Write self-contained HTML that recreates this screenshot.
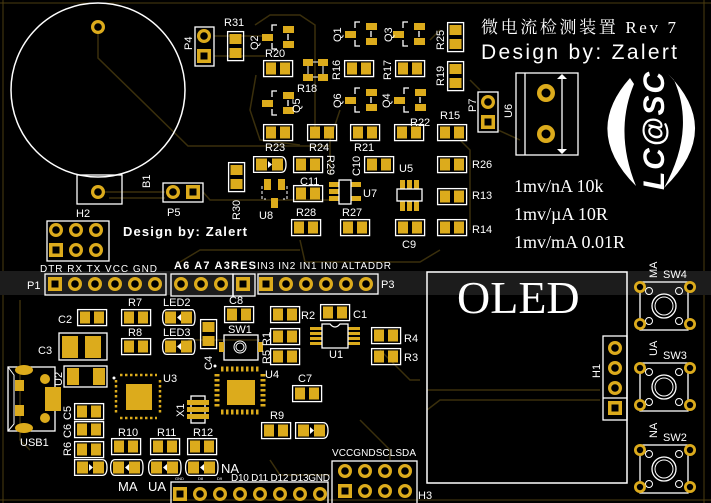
<!DOCTYPE html>
<html><head><meta charset="utf-8"><style>
html,body{margin:0;padding:0;background:#000;}
svg{display:block;}
text{font-family:"Liberation Sans","Noto Sans CJK SC",sans-serif;fill:#fff;}
.s{font-family:"Liberation Serif","Noto Serif CJK SC",serif;}
</style></head><body>
<svg width="711" height="503" viewBox="0 0 711 503" xmlns="http://www.w3.org/2000/svg">
<defs>
<g id="rh"><rect x="0.6" y="0.6" width="29" height="16" fill="none" stroke="#fff" stroke-width="1.3"/><rect x="3" y="2.5" width="10" height="12" fill="#dcab1c"/><rect x="17" y="2.5" width="10" height="12" fill="#dcab1c"/></g>
<g id="rv"><rect x="0.6" y="0.6" width="16" height="29" fill="none" stroke="#fff" stroke-width="1.3"/><rect x="2.5" y="3" width="12" height="10" fill="#dcab1c"/><rect x="2.5" y="17" width="12" height="10" fill="#dcab1c"/></g>
<g id="dr"><path d="M5 0.6 H30 Q33 0.6 33 8.5 Q33 16.4 30 16.4 H5 Q0.6 16.4 0.6 8.5 Q0.6 0.6 5 0.6Z" fill="none" stroke="#fff" stroke-width="1.3"/><rect x="3" y="2.5" width="11" height="12" fill="#dcab1c"/><rect x="19" y="2.5" width="11" height="12" fill="#dcab1c"/><path d="M19 5 L15 8.5 L19 12Z" fill="#fff"/></g>
<g id="df"><path d="M0.6 0.6 H28 Q33 0.6 33 8.5 Q33 16.4 28 16.4 H0.6Z" fill="none" stroke="#fff" stroke-width="1.3"/><rect x="3" y="2.5" width="11" height="12" fill="#dcab1c"/><rect x="19" y="2.5" width="11" height="12" fill="#dcab1c"/><path d="M15 5 L19 8.5 L15 12Z" fill="#fff"/></g>
<g id="q"><rect x="0" y="9" width="11" height="7" fill="#dcab1c"/><rect x="21" y="1" width="11" height="7" fill="#dcab1c"/><rect x="21" y="16" width="11" height="7" fill="#dcab1c"/><path d="M15 0 H10 V6 M10 18 V24 H15 M26 9 V15" fill="none" stroke="#fff" stroke-width="1.3"/></g>
<g id="pc"><circle cx="0" cy="0" r="7" fill="#dcab1c"/><circle cx="0" cy="0" r="3.8" fill="#000"/></g>
<g id="ps"><rect x="-7" y="-7" width="14" height="14" fill="#dcab1c"/><rect x="-3.5" y="-3.5" width="7" height="7" fill="#000"/></g>
<g id="sw"><rect x="0" y="0" width="48" height="48" fill="none" stroke="#fff" stroke-width="1.3"/><circle cx="24" cy="24" r="12" fill="none" stroke="#fff" stroke-width="1.3"/><circle cx="24" cy="24" r="9" fill="none" stroke="#fff" stroke-width="1"/><circle cx="9" cy="9" r="3.5" fill="none" stroke="#fff"/><circle cx="39" cy="9" r="3.5" fill="none" stroke="#fff"/><circle cx="9" cy="39" r="3.5" fill="none" stroke="#fff"/><circle cx="39" cy="39" r="3.5" fill="none" stroke="#fff"/>
<circle cx="0" cy="5" r="6" fill="#dcab1c"/><circle cx="0" cy="5" r="3.2" fill="#000"/><circle cx="50" cy="5" r="6" fill="#dcab1c"/><circle cx="50" cy="5" r="3.2" fill="#000"/><circle cx="0" cy="42" r="6" fill="#dcab1c"/><circle cx="0" cy="42" r="3.2" fill="#000"/><circle cx="50" cy="42" r="6" fill="#dcab1c"/><circle cx="50" cy="42" r="3.2" fill="#000"/></g>
</defs>
<rect width="711" height="503" fill="#000"/>
<path d="M3 0 V503 M0 3 H711 M704 0 V503 M0 500 H711" stroke="#4a3c10" stroke-width="1" fill="none"/>
<rect x="0" y="271" width="711" height="24" fill="#1c1c1c"/>
<g stroke="#3a2f0c" stroke-width="1.5" fill="none">
<path d="M98 27 V58 L188 146 H330"/><path d="M98 192 H165"/><path d="M109 198 H165"/><path d="M203 192 L210 200 H330"/>
<path d="M214 36 H265 M214 56 H265"/><path d="M255 25 L270 15 H300 L315 25 V130"/><path d="M256 75 L250 110 L260 140 L300 145"/>
<path d="M340 110 L330 140 V175"/><path d="M430 40 L440 30 M470 80 L480 90 M460 140 L470 150 V230"/>
<path d="M498 130 L520 140"/><path d="M300 240 L305 262 H420 L440 250"/><path d="M180 262 L200 250 H300"/>
<path d="M427 390 H600 M427 410 L440 400 H600"/><path d="M360 420 L390 450 V460"/><path d="M270 460 L280 475 H330"/>
<path d="M20 300 V440 L30 450"/><path d="M170 350 L190 340 H260"/><path d="M380 350 L410 380 L420 380"/>
</g>
<circle cx="98" cy="90" r="87" fill="none" stroke="#fff" stroke-width="1.5"/>
<rect x="77" y="175" width="45" height="29" fill="none" stroke="#fff" stroke-width="1.3"/>
<use href="#pc" x="98" y="27"/><use href="#pc" x="98" y="192"/>
<text x="150" y="188" font-size="11" transform="rotate(-90 150 188)">B1</text>
<rect x="195" y="27" width="19" height="39" fill="none" stroke="#fff" stroke-width="1.3"/>
<use href="#pc" x="204" y="36"/><use href="#ps" x="204" y="56"/>
<text x="192" y="50" font-size="11" transform="rotate(-90 192 50)">P4</text>
<rect x="163" y="183" width="40" height="19" fill="none" stroke="#fff" stroke-width="1.3"/>
<use href="#pc" x="173" y="192"/><use href="#ps" x="193" y="192"/>
<text x="167" y="216" font-size="11">P5</text>
<rect x="47" y="221" width="62" height="40" fill="none" stroke="#fff" stroke-width="1.3"/>
<use href="#pc" x="56" y="230"/><use href="#pc" x="76" y="230"/><use href="#pc" x="96" y="230"/>
<use href="#ps" x="56" y="250"/><use href="#pc" x="76" y="250"/><use href="#pc" x="96" y="250"/>
<text x="76" y="217" font-size="11">H2</text>
<text x="123" y="236" font-size="13" font-weight="bold" textLength="124">Design by: Zalert</text>
<use href="#rv" x="227" y="31"/><text x="224" y="26" font-size="11">R31</text>
<use href="#q" x="262" y="25"/><text x="258" y="50" font-size="11" transform="rotate(-90 258 50)">Q2</text>
<use href="#rh" x="263" y="60"/><text x="265" y="57" font-size="11">R20</text>
<g fill="#dcab1c"><rect x="303" y="59" width="10" height="7"/><rect x="318" y="59" width="10" height="7"/><rect x="303" y="74" width="10" height="7"/><rect x="318" y="74" width="10" height="7"/></g>
<path d="M308 66 V74 M323 66 V74 M313 62 H318 M313 77 H318" stroke="#fff" fill="none"/>
<text x="297" y="92" font-size="11">R18</text>
<use href="#q" x="262" y="91"/><text x="300" y="113" font-size="11" transform="rotate(-90 300 113)">Q5</text>
<use href="#q" x="345" y="22"/><text x="341" y="42" font-size="11" transform="rotate(-90 341 42)">Q1</text>
<use href="#q" x="393" y="22"/><text x="392" y="42" font-size="11" transform="rotate(-90 392 42)">Q3</text>
<use href="#rh" x="344" y="60"/><text x="340" y="80" font-size="11" transform="rotate(-90 340 80)">R16</text>
<use href="#rh" x="395" y="60"/><text x="391" y="80" font-size="11" transform="rotate(-90 391 80)">R17</text>
<use href="#q" x="345" y="88"/><text x="341" y="108" font-size="11" transform="rotate(-90 341 108)">Q6</text>
<use href="#q" x="394" y="88"/><text x="390" y="108" font-size="11" transform="rotate(-90 390 108)">Q4</text>
<use href="#rv" x="447" y="22"/><text x="444" y="50" font-size="11" transform="rotate(-90 444 50)">R25</text>
<use href="#rv" x="447" y="61"/><text x="444" y="86" font-size="11" transform="rotate(-90 444 86)">R19</text>
<use href="#rh" x="263" y="124"/><text x="265" y="151" font-size="11">R23</text>
<use href="#rh" x="307" y="124"/><text x="309" y="151" font-size="11">R24</text>
<use href="#rh" x="350" y="124"/><text x="354" y="151" font-size="11">R21</text>
<use href="#rh" x="394" y="124"/><text x="410" y="126" font-size="11">R22</text>
<use href="#rh" x="437" y="124"/><text x="440" y="119" font-size="11">R15</text>
<use href="#df" x="253" y="156"/>
<use href="#rh" x="293" y="156"/><text x="327" y="155" font-size="11" transform="rotate(90 327 155)">R29</text>
<use href="#rh" x="364" y="156"/><text x="360" y="176" font-size="11" transform="rotate(-90 360 176)">C10</text>
<use href="#rh" x="437" y="156"/><text x="472" y="168" font-size="11">R26</text>
<text x="300" y="185" font-size="11">C11</text>
<use href="#rh" x="293" y="185"/>
<use href="#rh" x="437" y="188"/><text x="472" y="199" font-size="11">R13</text>
<use href="#rh" x="291" y="219"/><text x="296" y="216" font-size="11">R28</text>
<use href="#rh" x="340" y="219"/><text x="342" y="216" font-size="11">R27</text>
<use href="#rh" x="395" y="219"/><text x="402" y="248" font-size="11">C9</text>
<use href="#rh" x="437" y="219"/><text x="472" y="233" font-size="11">R14</text>
<use href="#rv" x="228" y="162"/><text x="240" y="220" font-size="11" transform="rotate(-90 240 220)">R30</text>
<g fill="#dcab1c"><rect x="264" y="179" width="7" height="11"/><rect x="278" y="179" width="7" height="11"/><rect x="271" y="198" width="7" height="10"/></g>
<path d="M262 186 V199 H266 M287 186 V199 H283" stroke="#fff" fill="none" stroke-dasharray="3 2"/>
<text x="259" y="219" font-size="11">U8</text>
<g fill="#dcab1c"><rect x="329" y="182" width="10" height="5"/><rect x="329" y="189" width="10" height="5"/><rect x="329" y="196" width="10" height="5"/><rect x="351" y="182" width="10" height="5"/><rect x="351" y="196" width="10" height="5"/></g>
<rect x="339" y="180" width="12" height="24" fill="none" stroke="#fff" stroke-width="1.3"/>
<text x="363" y="197" font-size="11">U7</text>
<g fill="#dcab1c"><rect x="400" y="180" width="5" height="31"/><rect x="407" y="180" width="5" height="31"/><rect x="414" y="180" width="5" height="31"/></g>
<rect x="397" y="189" width="25" height="12" fill="#000" stroke="#fff" stroke-width="1.3"/>
<text x="399" y="172" font-size="11">U5</text>
<text x="481" y="33" font-size="17" class="s" textLength="195">微电流检测装置 Rev 7</text>
<text x="481" y="59" font-size="21" textLength="196">Design by: Zalert</text>
<rect x="478" y="92" width="20" height="40" fill="none" stroke="#fff" stroke-width="1.3"/>
<use href="#pc" x="488" y="102"/><use href="#ps" x="488" y="122"/>
<text x="476" y="112" font-size="11" transform="rotate(-90 476 112)">P7</text>
<rect x="516" y="73" width="62" height="82" fill="none" stroke="#fff" stroke-width="1.3"/>
<path d="M525 73 V155 M562 76 V152" stroke="#fff" stroke-width="1.3"/>
<path d="M557 79 L562 74 L567 79Z M557 149 L562 154 L567 149Z" fill="#fff"/>
<circle cx="546" cy="93" r="9" fill="#dcab1c"/><circle cx="546" cy="93" r="4.5" fill="#000"/>
<circle cx="546" cy="134" r="9" fill="#dcab1c"/><circle cx="546" cy="134" r="4.5" fill="#000"/>
<text x="512" y="118" font-size="11" transform="rotate(-90 512 118)">U6</text>
<path d="M630 78 Q582 132 636 186 Q614 132 634 84 Z" fill="#fff"/>
<path d="M668 74 Q724 130 664 188 Q696 130 674 80 Z" fill="#fff"/>
<text x="664" y="190" font-size="30" font-weight="bold" font-style="italic" textLength="118" transform="rotate(-90 664 190)">LC@SC</text>
<text x="514" y="192" font-size="18" class="s">1mv/nA 10k</text>
<text x="514" y="220" font-size="18" class="s">1mv/µA 10R</text>
<text x="514" y="248" font-size="18" class="s">1mv/mA 0.01R</text>
<text x="40" y="272" font-size="10" textLength="117">DTR RX TX VCC GND</text>
<rect x="45" y="274" width="121" height="21" fill="none" stroke="#fff" stroke-width="1.3"/>
<text x="27" y="289" font-size="11">P1</text>
<use href="#ps" x="55" y="284"/><use href="#pc" x="75" y="284"/><use href="#pc" x="95" y="284"/><use href="#pc" x="115" y="284"/><use href="#pc" x="135" y="284"/><use href="#pc" x="155" y="284"/>
<text x="174" y="269" font-size="11" font-weight="bold" textLength="82">A6 A7 A3RES</text>
<rect x="171" y="274" width="62" height="22" fill="none" stroke="#fff" stroke-width="1.3"/>
<rect x="233" y="274" width="22" height="22" fill="none" stroke="#fff" stroke-width="1.3"/>
<use href="#pc" x="181" y="284"/><use href="#pc" x="201" y="284"/><use href="#pc" x="221" y="284"/><use href="#ps" x="243" y="284"/>
<text x="257" y="269" font-size="10" textLength="134">IN3 IN2 IN1 IN0 ALTADDR</text>
<rect x="258" y="274" width="120" height="20" fill="none" stroke="#fff" stroke-width="1.3"/>
<use href="#ps" x="266" y="284"/><use href="#pc" x="286" y="284"/><use href="#pc" x="306" y="284"/><use href="#pc" x="326" y="284"/><use href="#pc" x="346" y="284"/><use href="#pc" x="366" y="284"/>
<text x="381" y="288" font-size="11">P3</text>
<use href="#rh" x="77" y="309"/><text x="58" y="323" font-size="11">C2</text>
<use href="#rh" x="121" y="309"/><text x="128" y="306" font-size="11">R7</text>
<use href="#rh" x="121" y="338"/><text x="128" y="336" font-size="11">R8</text>
<use href="#dr" x="162" y="309"/><text x="163" y="306" font-size="11">LED2</text>
<use href="#dr" x="162" y="338"/><text x="163" y="336" font-size="11">LED3</text>
<use href="#rh" x="224" y="306"/><text x="229" y="304" font-size="11">C8</text>
<use href="#rv" x="200" y="319"/><text x="212" y="370" font-size="11" transform="rotate(-90 212 370)">C4</text>
<rect x="224" y="335" width="34" height="25" fill="none" stroke="#fff" stroke-width="1.3"/>
<circle cx="240" cy="347" r="6" fill="none" stroke="#fff"/><circle cx="240" cy="347" r="4" fill="none" stroke="#fff"/>
<rect x="219" y="342" width="5" height="10" fill="#dcab1c"/><rect x="258" y="342" width="5" height="10" fill="#dcab1c"/>
<text x="228" y="333" font-size="11">SW1</text>
<use href="#rh" x="270" y="306"/><text x="301" y="319" font-size="11">R2</text>
<use href="#rh" x="270" y="328"/><text x="270" y="346" font-size="11" transform="rotate(-90 270 346)">R1</text>
<use href="#rh" x="270" y="348"/><text x="270" y="364" font-size="11" transform="rotate(-90 270 364)">R5</text>
<use href="#rh" x="320" y="304"/><text x="353" y="318" font-size="11">C1</text>
<g fill="#dcab1c"><rect x="310" y="327" width="12" height="3"/><rect x="310" y="332" width="12" height="3"/><rect x="310" y="337" width="12" height="3"/><rect x="310" y="342" width="12" height="3"/><rect x="348" y="327" width="12" height="3"/><rect x="348" y="332" width="12" height="3"/><rect x="348" y="337" width="12" height="3"/><rect x="348" y="342" width="12" height="3"/></g>
<path d="M322 324 V348 H348 V324 H340 Q335 330 330 324 Z" fill="none" stroke="#fff" stroke-width="1.3"/>
<text x="329" y="358" font-size="11">U1</text>
<use href="#rh" x="371" y="327"/><text x="404" y="342" font-size="11">R4</text>
<use href="#rh" x="371" y="348"/><text x="404" y="361" font-size="11">R3</text>
<rect x="59" y="333" width="48" height="27" fill="none" stroke="#fff" stroke-width="1.3"/>
<rect x="62" y="336" width="16" height="22" fill="#dcab1c"/><rect x="85" y="336" width="16" height="22" fill="#dcab1c"/>
<text x="38" y="354" font-size="11">C3</text>
<rect x="64" y="366" width="43" height="21" fill="none" stroke="#fff" stroke-width="1.3"/>
<rect x="67" y="368" width="12" height="17" fill="#dcab1c"/><rect x="93" y="368" width="12" height="17" fill="#dcab1c"/>
<text x="62" y="386" font-size="11" transform="rotate(-90 62 386)">U2</text>
<rect x="8" y="367" width="47" height="64" fill="none" stroke="#fff" stroke-width="1.3"/>
<path d="M8 367 L14 375 V424 L8 431" stroke="#fff" fill="none"/>
<ellipse cx="24" cy="370" rx="9" ry="5" fill="#dcab1c"/><ellipse cx="24" cy="428" rx="9" ry="5" fill="#dcab1c"/>
<rect x="15" y="380" width="9" height="11" fill="#dcab1c"/><rect x="15" y="405" width="9" height="11" fill="#dcab1c"/>
<circle cx="45" cy="379" r="5" fill="#dcab1c"/><circle cx="45" cy="418" r="5" fill="#dcab1c"/>
<rect x="45" y="387" width="16" height="24" fill="#dcab1c"/>
<text x="20" y="446" font-size="11">USB1</text>
<g fill="#dcab1c">
<rect x="126" y="384" width="26" height="26"/>
<rect x="227" y="380" width="28" height="25"/>
</g>
<g stroke="#dcab1c" stroke-width="2.5" stroke-dasharray="2.5 2.5">
<path d="M120 375 H157 M120 418 H157 M116 380 V415 M160 380 V415"/>
<path d="M221 369 H261 M221 412 H261 M217 374 V409 M263 374 V409" stroke-width="5"/>
</g>
<text x="163" y="382" font-size="11">U3</text><text x="265" y="378" font-size="11">U4</text>
<circle cx="114" cy="378" r="1.5" fill="#fff"/><circle cx="215" cy="366" r="1.5" fill="#fff"/>
<rect x="191" y="396" width="14" height="27" fill="none" stroke="#fff" stroke-width="1.3"/>
<rect x="187" y="400" width="22" height="5" fill="#dcab1c"/><rect x="187" y="407" width="22" height="5" fill="#dcab1c"/><rect x="187" y="414" width="22" height="5" fill="#dcab1c"/>
<text x="184" y="417" font-size="11" transform="rotate(-90 184 417)">X1</text>
<use href="#rh" x="292" y="385"/><text x="298" y="382" font-size="11">C7</text>
<use href="#rh" x="261" y="422"/><text x="270" y="419" font-size="11">R9</text>
<use href="#df" x="295" y="422"/>
<use href="#rh" x="74" y="403"/><text x="71" y="420" font-size="11" transform="rotate(-90 71 420)">C5</text>
<use href="#rh" x="74" y="421"/><text x="71" y="438" font-size="11" transform="rotate(-90 71 438)">C6</text>
<use href="#rh" x="74" y="441"/><text x="71" y="456" font-size="11" transform="rotate(-90 71 456)">R6</text>
<use href="#rh" x="111" y="438"/><text x="118" y="436" font-size="11">R10</text>
<use href="#rh" x="150" y="438"/><text x="157" y="436" font-size="11">R11</text>
<use href="#rh" x="187" y="438"/><text x="193" y="436" font-size="11">R12</text>
<use href="#df" x="74" y="459"/><use href="#dr" x="110" y="459"/><use href="#dr" x="148" y="459"/><use href="#dr" x="185" y="459"/>
<text x="118" y="491" font-size="13">MA</text><text x="148" y="491" font-size="13">UA</text><text x="221" y="473" font-size="13">NA</text>
<text x="175" y="480" font-size="4">GND</text><text x="198" y="480" font-size="4">D8</text><text x="217" y="480" font-size="4">D9</text>
<text x="231" y="481" font-size="10" textLength="99">D10 D11 D12 D13GND</text>
<rect x="171" y="482" width="157" height="24" fill="none" stroke="#fff" stroke-width="1.3"/>
<use href="#ps" x="180" y="494"/><use href="#pc" x="200" y="494"/><use href="#pc" x="220" y="494"/><use href="#pc" x="240" y="494"/><use href="#pc" x="260" y="494"/><use href="#pc" x="280" y="494"/><use href="#pc" x="300" y="494"/><use href="#pc" x="320" y="494"/>
<text x="332" y="456" font-size="10" textLength="84">VCCGNDSCLSDA</text>
<rect x="332" y="461" width="85" height="45" fill="none" stroke="#fff" stroke-width="1.3"/>
<use href="#pc" x="345" y="471"/><use href="#pc" x="365" y="471"/><use href="#pc" x="385" y="471"/><use href="#pc" x="405" y="471"/>
<use href="#ps" x="345" y="491"/><use href="#pc" x="365" y="491"/><use href="#pc" x="385" y="491"/><use href="#pc" x="405" y="491"/>
<text x="418" y="499" font-size="11">H3</text>
<rect x="427" y="272" width="200" height="211" fill="none" stroke="#fff" stroke-width="1.5"/>
<text x="457" y="313" font-size="46" class="s">OLED</text>
<rect x="603" y="336" width="24" height="84" fill="none" stroke="#fff" stroke-width="1.3"/>
<path d="M603 398 H627" stroke="#fff" stroke-width="1.3"/>
<use href="#pc" x="615" y="348"/><use href="#pc" x="615" y="368"/><use href="#pc" x="615" y="388"/><use href="#ps" x="615" y="408"/>
<text x="600" y="378" font-size="11" transform="rotate(-90 600 378)">H1</text>
<use href="#sw" x="640" y="282"/><use href="#sw" x="640" y="363"/><use href="#sw" x="640" y="445"/>
<text x="663" y="278" font-size="11">SW4</text><text x="663" y="359" font-size="11">SW3</text><text x="663" y="441" font-size="11">SW2</text>
<text x="657" y="278" font-size="11" transform="rotate(-90 657 278)">MA</text>
<text x="657" y="356" font-size="11" transform="rotate(-90 657 356)">UA</text>
<text x="657" y="438" font-size="11" transform="rotate(-90 657 438)">NA</text>
</svg>
</body></html>
